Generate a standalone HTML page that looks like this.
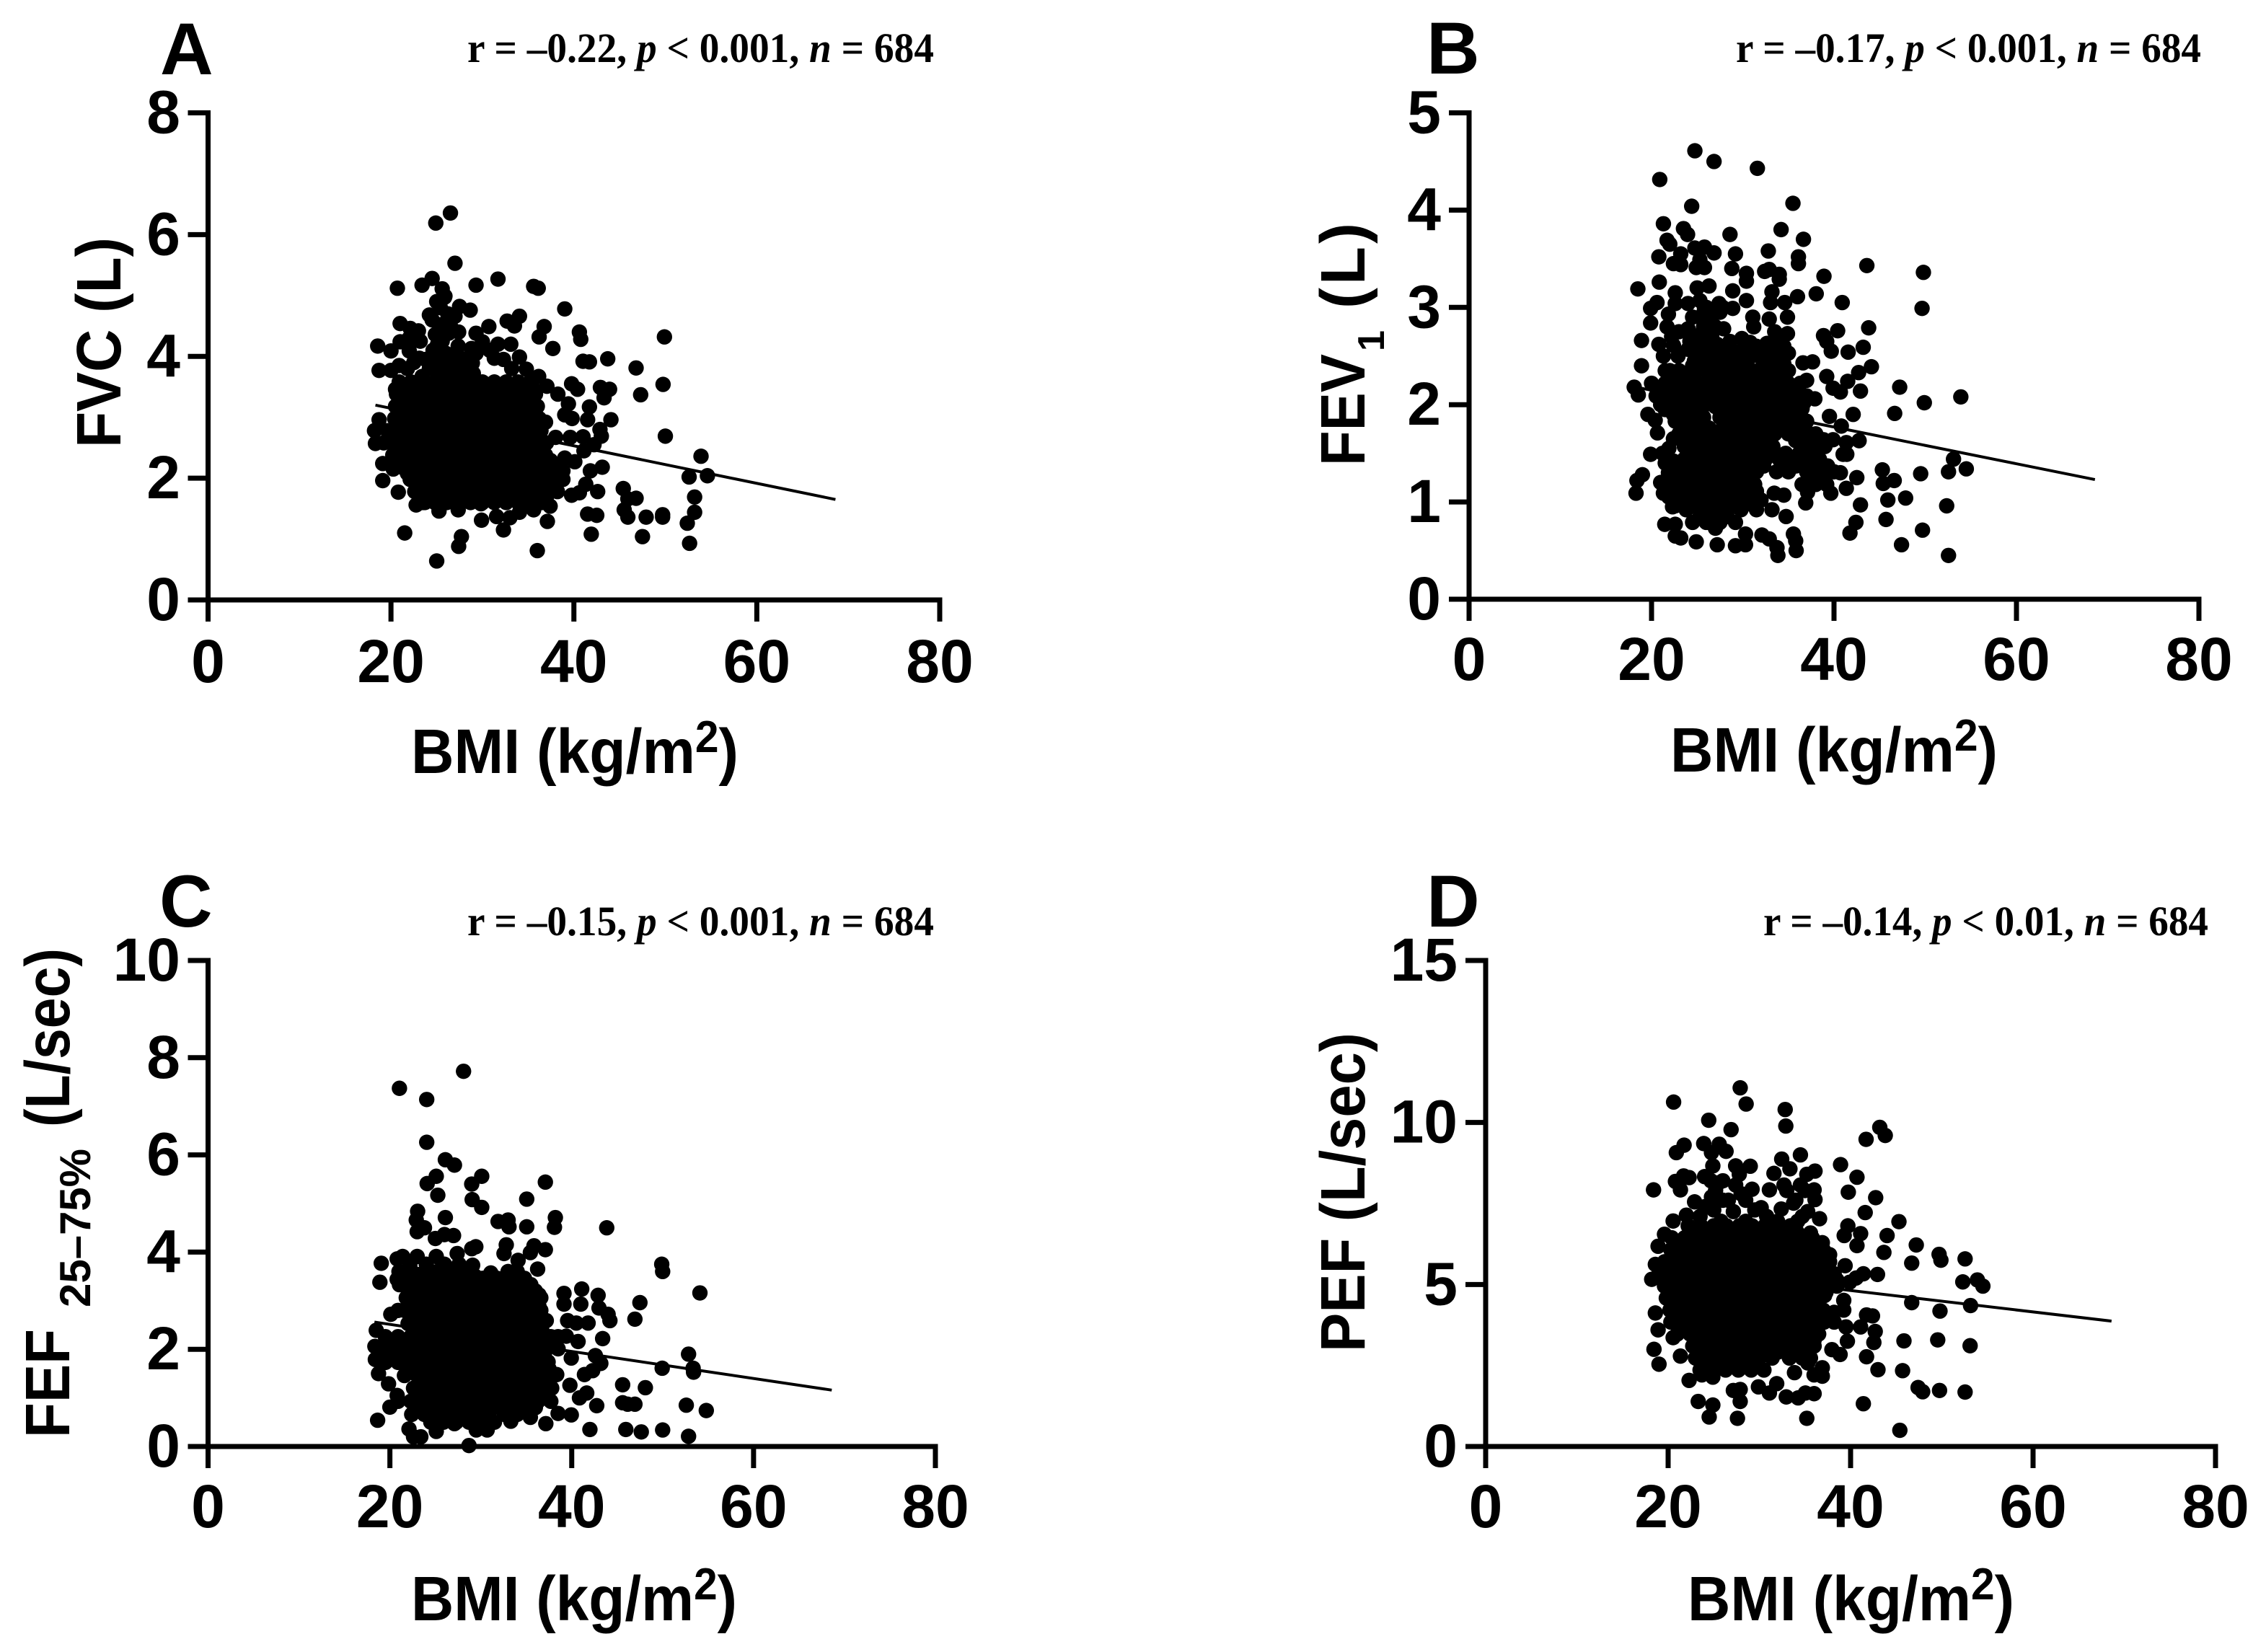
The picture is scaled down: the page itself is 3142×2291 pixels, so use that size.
<!DOCTYPE html>
<html lang="en">
<head>
<meta charset="utf-8">
<title>Lung function versus BMI</title>
<style>
html,body{margin:0;padding:0;background:#fff;width:3142px;height:2291px;overflow:hidden}
svg{display:block}
text{fill:#000}
.sans{font-family:"Liberation Sans",Arial,sans-serif;font-weight:700}
.serif{font-family:"Liberation Serif","Times New Roman",serif;font-weight:700;font-size:58px}
.letter{font-size:102px}
.ytitle{font-size:87px}
.xtitle{font-size:87px}
.tick{font-size:84px}
</style>
</head>
<body>
<svg id="figure" width="3142" height="2291" viewBox="0 0 3142 2291" xmlns="http://www.w3.org/2000/svg">
<rect width="3142" height="2291" fill="#fff"/>

<g id="panel-a"></g>
<g id="panel-b"></g>
<g id="panel-c"></g>
<g id="panel-d"></g>

<text class="sans letter" x="222" y="103">A</text>
<text class="sans letter" x="1978" y="102">B</text>
<text class="sans letter" x="221" y="1285">C</text>
<text class="sans letter" x="1978" y="1285">D</text>

<text class="serif" x="648" y="86" textLength="647" lengthAdjust="spacingAndGlyphs">r = –0.22, <tspan font-style="italic">p</tspan> &lt; 0.001, <tspan font-style="italic">n</tspan> = 684</text>
<text class="serif" x="2407" y="86" textLength="645" lengthAdjust="spacingAndGlyphs">r = –0.17, <tspan font-style="italic">p</tspan> &lt; 0.001, <tspan font-style="italic">n</tspan> = 684</text>
<text class="serif" x="648" y="1297" textLength="647" lengthAdjust="spacingAndGlyphs">r = –0.15, <tspan font-style="italic">p</tspan> &lt; 0.001, <tspan font-style="italic">n</tspan> = 684</text>
<text class="serif" x="2445" y="1297" textLength="617" lengthAdjust="spacingAndGlyphs">r = –0.14, <tspan font-style="italic">p</tspan> &lt; 0.01, <tspan font-style="italic">n</tspan> = 684</text>

<text class="sans xtitle" x="570" y="1072" textLength="454" lengthAdjust="spacingAndGlyphs">BMI (kg/m<tspan font-size="62" dy="-29">2</tspan><tspan dy="29">)</tspan></text>
<text class="sans xtitle" x="2316" y="1070" textLength="454" lengthAdjust="spacingAndGlyphs">BMI (kg/m<tspan font-size="62" dy="-29">2</tspan><tspan dy="29">)</tspan></text>
<text class="sans xtitle" x="570" y="2247" textLength="452" lengthAdjust="spacingAndGlyphs">BMI (kg/m<tspan font-size="62" dy="-29">2</tspan><tspan dy="29">)</tspan></text>
<text class="sans xtitle" x="2340" y="2247" textLength="453" lengthAdjust="spacingAndGlyphs">BMI (kg/m<tspan font-size="62" dy="-29">2</tspan><tspan dy="29">)</tspan></text>

<text class="sans ytitle" transform="translate(167,621) rotate(-90)" x="0" y="0" textLength="292" lengthAdjust="spacingAndGlyphs">FVC (L)</text>

<g>
<text class="sans ytitle" transform="translate(1892,646) rotate(-90)" x="0" y="0" textLength="155" lengthAdjust="spacingAndGlyphs">FEV</text>
<text class="sans" font-size="52" transform="translate(1919,487) rotate(-90)" x="0" y="0">1</text>
<text class="sans ytitle" transform="translate(1892,428) rotate(-90)" x="0" y="0" textLength="119">(L)</text>
</g>

<g>
<text class="sans ytitle" transform="translate(96,1994) rotate(-90)" x="0" y="0" textLength="151" lengthAdjust="spacingAndGlyphs">FEF</text>
<text class="sans" font-size="60" transform="translate(125,1813) rotate(-90)" x="0" y="0" textLength="220">25–75%</text>
<text class="sans ytitle" transform="translate(96,1563) rotate(-90)" x="0" y="0" textLength="248" lengthAdjust="spacingAndGlyphs">(L/sec)</text>
</g>

<text class="sans ytitle" transform="translate(1892,1875) rotate(-90)" x="0" y="0" textLength="443" lengthAdjust="spacingAndGlyphs">PEF (L/sec)</text>
</svg>

<script>
const bmiTicks = [0, 20, 40, 60, 80];
const fvcTicks = [0, 2, 4, 6, 8];
const fev1Ticks = [0, 1, 2, 3, 4, 5];
const fefTicks = [0, 2, 4, 6, 8, 10];
const pefTicks = [0, 5, 10, 15];

const fitBmi = [18.3, 68.6];
const fvcFit = [3.2, 1.65];
const fev1Fit = [2.18, 1.23];
const fefFit = [2.56, 1.16];
const pefFit = [5.53, 3.87];

const fvcPoints = [
[26.5,6.355],[24.9,6.19],[27,5.53],[20.7,5.12],[23.4,5.17],[24.5,5.28],[29.3,5.17],[31.7,5.27],[35.6,5.15],[36.1,5.12],[39,4.78],[25.6,5.11],[25.85,4.97],[49.9,4.32],[36.75,4.49],[36.2,4.32],[37.7,4.13],[40.6,4.4],[40.75,4.28],[41,3.92],[41.7,3.91],[43.7,3.96],[46.8,3.81],[49.75,3.54],[47.3,3.37],[39.75,3.55],[40.4,3.46],[42.9,3.49],[43.9,3.46],[43.3,3.32],[41.7,3.17],[44.05,2.96],[50,2.69],[53.9,2.36],[52.6,2.02],[54.6,2.04],[53.2,1.69],[53.2,1.44],[52.4,1.26],[52.65,0.93],[49.7,1.4],[49.7,1.36],[47.9,1.36],[47.5,1.04],[45.9,1.36],[45.5,1.48],[45.4,1.83],[45.9,1.66],[46.8,1.67],[41.5,1.41],[42.5,1.39],[41.9,1.08],[43.1,2.18],[41.8,2.12],[41.3,1.9],[42.6,1.78],[40.6,1.76],[39.75,1.72],[37.1,1.29],[36,0.81],[33,1.35],[32.3,1.15],[31.55,1.37],[29.9,1.31],[27.7,1.04],[27.4,0.88],[25,0.64],[21.5,1.1],[20.8,1.77],[19.1,1.96],[19.1,2.24],[20.25,2.15],[25.25,1.46],[27.35,1.48],[22.75,1.56],[23.7,1.6],[29.84,1.58],[35.6,1.48],[37.4,1.54],[34.05,1.44],[18.3,2.57],[18.2,2.78],[18.7,2.96],
[18.7,3.77],[20,3.77],[20.9,3.85],[18.55,4.17],[20,4.09],[21,4.24],[21,4.54],[22.1,4.46],[23,4.42],[22,4.09],[23.1,3.97],[23.4,3.67],[21.6,3.53],[20.5,3.46],[24.2,4.68],[25.4,4.8],[27,4.66],[27.5,4.82],[28.66,4.76],[25.9,4.99],[24.85,4.36],[26.3,4.38],[25.4,4.52],[29.3,4.38],[30.7,4.49],[32.7,4.58],[34.05,4.66],[33.5,4.5],[33.1,4.2],[31.7,4.2],[32.3,3.95],[31.3,3.97],[30,4.24],[27.35,4.17],[28.8,4.13],[34.05,3.99],[34.8,3.79],[36.15,3.67],[37.05,3.51],[38.25,3.38],[39.4,3.22],[39,3.04],[39.8,2.98],[41.5,2.96],[42.85,2.8],[43,2.69],[41.1,2.45],[42.2,2.55],[40.1,2.27],[39,2.33],[37.45,2.29],[36.9,2.92],[36,3.18],[38,2.67],[39.6,2.67],[41,2.68],[24.85,3.93],[26.2,3.89],[27.5,3.89],[28.9,3.89],[25.1,4.2],[23.8,3.95],[25.5,3.72],[27,3.72],[28.5,3.72],
[21.8,3.8],[22.5,3.9],[24.2,3.8],[25.9,3.8],[27.2,4.05],[28.2,3.95],[24.6,4.1],[26,4.05],[22,4.3],[23.2,4.25],[24.5,4.6],[26.5,4.5],[25,4.9],[26.2,4.7],[29.3,4.05],[30.8,4.1],[33.2,3.8],[29,3.72],[25.6,4.25],[27.4,4.4],
[20.9,3.58],[22.2,3.58],[23.5,3.58],[24.8,3.58],[26.1,3.58],[27.4,3.58],[28.7,3.58],[30,3.58],[31.3,3.58],[32.6,3.58],[33.9,3.58],[35.2,3.58],
[21.2,3.48],[22.5,3.48],[23.8,3.48],[25.1,3.48],[26.4,3.48],[27.7,3.48],[29,3.48],[30.3,3.48],[31.6,3.48],[32.9,3.48],[34.2,3.48],[35.5,3.48],
[20.6,3.38],[21.9,3.38],[23.2,3.38],[24.5,3.38],[25.8,3.38],[27.1,3.38],[28.4,3.38],[29.7,3.38],[31,3.38],[32.3,3.38],[33.6,3.38],[34.9,3.38],[35.8,3.38],
[21.2,3.28],[22.5,3.28],[23.8,3.28],[25.1,3.28],[26.4,3.28],[27.7,3.28],[29,3.28],[30.3,3.28],[31.6,3.28],[32.9,3.28],[34.2,3.28],[35.5,3.28],
[20.5,3.18],[21.8,3.18],[23.1,3.18],[24.4,3.18],[25.7,3.18],[27,3.18],[28.3,3.18],[29.6,3.18],[30.9,3.18],[32.2,3.18],[33.5,3.18],[34.8,3.18],
[21.1,3.08],[22.4,3.08],[23.7,3.08],[25,3.08],[26.3,3.08],[27.6,3.08],[28.9,3.08],[30.2,3.08],[31.5,3.08],[32.8,3.08],[34.1,3.08],[35.4,3.08],
[20.4,2.98],[21.7,2.98],[23,2.98],[24.3,2.98],[25.6,2.98],[26.9,2.98],[28.2,2.98],[29.5,2.98],[30.8,2.98],[32.1,2.98],[33.4,2.98],[34.7,2.98],[36.2,2.98],
[21,2.88],[22.3,2.88],[23.6,2.88],[24.9,2.88],[26.2,2.88],[27.5,2.88],[28.8,2.88],[30.1,2.88],[31.4,2.88],[32.7,2.88],[34,2.88],[35.3,2.88],[36,2.88],
[19.6,2.78],[20.9,2.78],[22.2,2.78],[23.5,2.78],[24.8,2.78],[26.1,2.78],[27.4,2.78],[28.7,2.78],[30,2.78],[31.3,2.78],[32.6,2.78],[33.9,2.78],[35.2,2.78],[36.4,2.78],
[20.2,2.68],[21.5,2.68],[22.8,2.68],[24.1,2.68],[25.4,2.68],[26.7,2.68],[28,2.68],[29.3,2.68],[30.6,2.68],[31.9,2.68],[33.2,2.68],[34.5,2.68],[35.8,2.68],
[19.2,2.58],[20.5,2.58],[21.8,2.58],[23.1,2.58],[24.4,2.58],[25.7,2.58],[27,2.58],[28.3,2.58],[29.6,2.58],[30.9,2.58],[32.2,2.58],[33.5,2.58],[34.8,2.58],[36.1,2.58],[37,2.58],
[20.5,2.48],[21.8,2.48],[23.1,2.48],[24.4,2.48],[25.7,2.48],[27,2.48],[28.3,2.48],[29.6,2.48],[30.9,2.48],[32.2,2.48],[33.5,2.48],[34.8,2.48],[36.2,2.48],
[20.2,2.38],[21.5,2.38],[22.8,2.38],[24.1,2.38],[25.4,2.38],[26.7,2.38],[28,2.38],[29.3,2.38],[30.6,2.38],[31.9,2.38],[33.2,2.38],[34.5,2.38],[35.8,2.38],[36.9,2.38],
[20.8,2.28],[22.1,2.28],[23.4,2.28],[24.7,2.28],[26,2.28],[27.3,2.28],[28.6,2.28],[29.9,2.28],[31.2,2.28],[32.5,2.28],[33.8,2.28],[35.1,2.28],[36.4,2.28],[37.2,2.2],
[21.2,2.18],[22.5,2.18],[23.8,2.18],[25.1,2.18],[26.4,2.18],[27.7,2.18],[29,2.18],[30.3,2.18],[31.6,2.18],[32.9,2.18],[34.2,2.18],[35.5,2.18],[36.8,2.18],[38,2.18],[38.8,2.12],
[21.8,2.08],[23.1,2.08],[24.4,2.08],[25.7,2.08],[27,2.08],[28.3,2.08],[29.6,2.08],[30.9,2.08],[32.2,2.08],[33.5,2.08],[34.8,2.08],[36.1,2.08],[37.5,2.08],
[22.1,1.98],[23.4,1.98],[24.7,1.98],[26,1.98],[27.3,1.98],[28.6,1.98],[29.9,1.98],[31.2,1.98],[32.5,1.98],[33.8,1.98],[35.1,1.98],[36.4,1.98],[37.7,1.98],[38.8,1.98],
[23,1.88],[24.3,1.88],[25.6,1.88],[26.9,1.88],[28.2,1.88],[29.5,1.88],[30.8,1.88],[32.1,1.88],[33.4,1.88],[34.7,1.88],[36,1.88],[37.3,1.88],[37.8,1.88],
[22.6,1.78],[23.9,1.78],[25.2,1.78],[26.5,1.78],[27.8,1.78],[29.1,1.78],[30.4,1.78],[31.7,1.78],[33,1.78],[34.3,1.78],[35.6,1.78],[36.9,1.78],[38.2,1.78],
[23.3,1.69],[24.6,1.69],[25.9,1.69],[27.2,1.69],[28.5,1.69],[29.8,1.69],[31.1,1.69],[32.4,1.69],[33.7,1.69],[35,1.69],[36.3,1.69],[37,1.69],
[23.5,1.6],[24.8,1.6],[26.1,1.6],[27.4,1.6],[28.7,1.6],[30,1.6],[31.3,1.6],[32.6,1.6],[33.9,1.6],[35.2,1.6],[36.5,1.6]
];

const fev1Points = [
[24.75,4.61],[26.85,4.5],[31.6,4.43],[20.9,4.315],[35.5,4.07],[24.4,4.04],[21.3,3.86],[23.5,3.81],[23.95,3.75],[28.6,3.75],[34.2,3.8],[36.65,3.7],[21.7,3.69],[22,3.65],[20.8,3.52],[23.2,3.55],[22.4,3.45],[23.2,3.44],[24.75,3.61],[25.8,3.62],[26.85,3.56],[25.3,3.49],[25.8,3.41],[24.9,3.41],[29.2,3.55],[32.8,3.58],[36.1,3.52],[36.1,3.45],[28.8,3.4],[30.4,3.35],[30.4,3.27],[32.4,3.37],[32.9,3.39],[34,3.34],[34,3.29],[38.9,3.32],[43.6,3.43],[49.8,3.36],[49.65,2.99],[18.5,3.19],[20.85,3.26],[20.6,3.05],[19.9,2.99],[19.9,2.84],[18.9,2.66],[18.9,2.4],[18.1,2.18],[18.55,2.1],
[22.6,3.15],[25,3.2],[26.3,3.22],[28.9,3.17],[30.4,3.07],[33.2,3.16],[33.05,3.05],[34.6,3.05],[36,3.11],[38.05,3.14],[40.9,3.05],[27.4,3.04],[28.9,2.99],[22.6,3.04],[24,3.04],[25.3,3.07],[21.85,2.93],[21.7,2.8],[31.1,2.9],[32.9,2.88],[34.9,2.9],[34.9,2.73],[31.2,2.8],[24,2.78],[25.3,2.9],[26.6,2.9],[27.9,2.78],[26.6,2.7],[25,2.7],[38.85,2.71],[40.4,2.76],[43.8,2.79],[43.2,2.59],[41.55,2.54],[39.7,2.55],[39.2,2.65],[35,2.53],[29.9,2.68],[30.8,2.64],[32.65,2.63],[34,2.64],[20.8,2.62],[22.4,2.61],[22.9,2.5],[24,2.57],[26.6,2.55],[27.9,2.55],[29.2,2.5],[31,2.5],[32.5,2.5],[34,2.5],[36.6,2.43],[37.65,2.44],[44.1,2.39],[42.7,2.33],[41.5,2.24],[39.2,2.29],[39.9,2.17],[40.7,2.13],[42.9,2.14],[47.2,2.18],[46.65,1.91],[49.9,2.02],[53.9,2.08],[37,2.25],[37.9,2.06],[39.5,1.88],[42.1,1.9],[40.8,1.78],[42.75,1.63],[41.35,1.61],[41.4,1.49],[41,1.49],[39.9,1.64],[38.85,1.64],[45.3,1.33],[49.5,1.29],[53.1,1.44],[52.55,1.31],[54.5,1.34],[46.6,1.22],[45.4,1.19],[42.5,1.25],[41.35,1.14],[40.7,1.3],[39.65,1.09],[42.9,0.97],[45.9,1.02],[47.85,1.04],[52.35,0.96],[45.7,0.82],[42.4,0.79],[41.75,0.68],[49.7,0.71],[47.4,0.56],[52.55,0.45],[36.9,0.99],[37.1,1.1],[34.5,1.07],[33.45,1.09],[33.2,0.92],[34.75,0.85],[35.55,0.67],[35.8,0.6],[35.85,0.5],[33.85,0.45],[33.75,0.53],[32.9,0.62],[32.1,0.66],[30.3,0.67],[30.3,0.56],[29.2,0.55],[29.2,0.79],[27.2,0.56],[27,0.73],[24.9,0.59],[23.2,0.63],[22.6,0.65],[21.45,0.77],[22.6,0.77],[18.3,1.09],[18.4,1.22],[19,1.28],[21.3,1.09],[22.6,0.96],[19.9,1.49],[21.2,1.5],[21.85,1.3],[19.6,1.9],[20.4,1.84],[20.65,1.71],
[21.5,1.95],[22,2.02],[21.8,1.2],[21.5,1.4],[22.4,1.42],[21.9,1.55],[22.4,1.65],[21.4,1.1],[21,1.2],[22.4,1.9],[21,2],[22.3,0.95],[24.2,2.65],[25,2.55],[25.6,2.75],[26.3,2.85],[27,2.6],[27.5,2.45],[25.6,2.45],[26.5,2.35],[24.5,2.4],[28.3,2.55],[27.8,3],[25.8,2.98],[24.7,2.3],[28.2,2.3],[29.5,2.45],[31,2.35],[33,2.4],[34.5,2.6],[25.7,1.87],[27.5,1.87],
[24.7,2.45],[26.2,2.45],[28.4,2.42],[30,2.42],[25.8,2.6],[27.2,2.62],[28.6,2.65],[25.7,2.8],[27,2.8],[24.5,2.9],[27.5,2.95],[26,3],[29.8,2.55],[31.5,2.6],[33.2,2.6],[33.5,2.75],[32.2,2.4],[34.5,2.42],[23,2.75],[22.2,2.7],[21.3,2.5],[22,2.35],
[21.5,2.35],[23,2.35],[26,2.35],[27.5,2.35],[29,2.35],[30.5,2.35],[32,2.35],[33.5,2.35],[35,2.35],
[22.2,2.28],[23.8,2.28],[26.7,2.28],[28.2,2.28],[29.7,2.28],[31.2,2.28],[32.7,2.28],[34.2,2.28],
[20,2.22],[21.5,2.22],[23,2.22],[24.5,2.22],[26,2.22],[27.5,2.22],[29,2.22],[30.5,2.22],[32,2.22],[33.5,2.22],[35,2.22],[36.3,2.22],
[21.2,2.15],[22.7,2.15],[24.2,2.15],[25.7,2.15],[27.2,2.15],[28.7,2.15],[30.2,2.15],[31.7,2.15],[33.2,2.15],[34.7,2.15],[36,2.15],
[20.5,2.09],[22,2.09],[23.5,2.09],[25,2.09],[26.5,2.09],[28,2.09],[29.5,2.09],[31,2.09],[32.5,2.09],[34,2.09],[35.5,2.09],[37,2.09],
[23.2,2.02],[24.7,2.02],[26.2,2.02],[27.7,2.02],[29.2,2.02],[30.7,2.02],[32.2,2.02],[33.7,2.02],[35.2,2.02],[36.7,2.02],
[22.5,1.96],[24,1.96],[25.5,1.96],[27,1.98],[28.5,1.96],[30,1.96],[31.5,1.96],[33,1.96],[34.5,1.96],[36.5,1.96],
[23.3,1.89],[24.8,1.89],[29.2,1.89],[30.7,1.89],[32.2,1.89],[33.7,1.89],[35.2,1.89],
[22.6,1.83],[24.1,1.83],[25.6,1.83],[28.5,1.83],[30,1.83],[31.5,1.83],[33,1.83],[34.5,1.83],[36,1.83],[37,1.83],
[23.3,1.76],[24.8,1.76],[26.3,1.76],[27.8,1.76],[29.3,1.76],[30.8,1.76],[32.3,1.76],[33.8,1.76],[35.3,1.76],[36.8,1.76],
[23,1.7],[24.5,1.7],[26,1.7],[27.5,1.7],[29,1.7],[30.5,1.7],[32,1.7],[33.5,1.7],[35,1.7],[36.6,1.7],[38,1.7],
[24.3,1.63],[25.8,1.63],[27.3,1.63],[28.8,1.63],[30.3,1.63],[31.8,1.63],[33,1.63],[35.8,1.63],[37.3,1.63],[38.5,1.63],
[23.6,1.57],[25.1,1.57],[26.6,1.57],[28.1,1.57],[29.6,1.57],[31,1.57],[32.5,1.57],[33.3,1.57],[36.5,1.57],[38,1.57],[39,1.57],
[24.3,1.5],[25.8,1.5],[27.3,1.5],[28.8,1.5],[30.3,1.5],[31.8,1.5],[33.2,1.5],[34.7,1.5],[36.2,1.5],[37.7,1.5],
[23.6,1.44],[25.1,1.44],[26.6,1.44],[28.1,1.44],[29.6,1.44],[31,1.44],[32.5,1.44],[34,1.44],[35.5,1.44],[37,1.44],[38.4,1.44],
[23.3,1.37],[24.8,1.37],[26.3,1.37],[27.8,1.37],[29.3,1.37],[30.8,1.37],[32.3,1.37],[34.3,1.37],[35.8,1.37],[37.7,1.37],[39.3,1.37],
[22.5,1.31],[24,1.31],[25.5,1.31],[27,1.31],[28.5,1.31],[30,1.31],[31.5,1.31],[33.7,1.31],[35,1.31],[37,1.31],[38.5,1.31],[40,1.31],
[23.3,1.24],[24.8,1.24],[26.3,1.24],[27.8,1.24],[29.3,1.24],[30.7,1.24],[37.3,1.24],[38.8,1.24],
[22.6,1.18],[24.1,1.18],[25.6,1.18],[27.1,1.18],[28.6,1.18],[30,1.18],[31.3,1.18],[36.5,1.18],[38,1.18],[39.2,1.18],
[22.6,1.11],[24.1,1.11],[25.6,1.11],[27.1,1.11],[28.6,1.11],[30.2,1.11],[31.5,1.11],
[21.9,1.05],[23.4,1.05],[24.9,1.05],[26.4,1.05],[27.9,1.05],[29.4,1.05],[31,1.05],[32,1.02],
[24.5,0.98],[26,0.98],[27.5,0.98],[29,0.98],[30.5,0.98],
[23.8,0.92],[25.3,0.92],[26.8,0.92],[28.3,0.92],[29.8,0.92],[31.5,0.92],
[25.3,0.85],[26.8,0.85],[28.3,0.85],
[24.5,0.79],[26,0.79],[27.5,0.79]
];

const fefPoints = [
[28.1,7.72],[21.05,7.37],[24.05,7.14],[24.05,6.26],[26.1,5.9],[27.1,5.79],[25.1,5.56],[30.1,5.56],[24.1,5.41],[29,5.4],[25.27,5.17],[37.1,5.44],[35.05,5.09],[29.05,5.08],[30.1,4.92],[43.85,4.5],[38.2,4.71],[38.1,4.51],[35.05,4.52],[33,4.66],[31.9,4.63],[33.1,4.52],[26.1,4.71],[23.05,4.84],[22.9,4.66],[23,4.42],[23.8,4.5],[25,4.28],[26,4.36],[27,4.34],[29.45,4.11],[29,4.07],[32.8,4.15],[32.55,3.97],[35.85,4.13],[35.45,3.99],[37.1,4.05],[36.25,3.65],[34.1,3.83],[49.9,3.75],[50,3.6],[54.1,3.16],[47.5,2.96],[46.95,2.62],[41.1,3.24],[39.15,3.15],[39.15,2.93],[42.9,3.11],[41,2.93],[43,2.85],[44,2.72],[44.2,2.59],[43.4,2.22],[42.6,1.87],[43.2,1.71],[42.3,1.56],[41.4,1.48],[39.95,1.82],[39.55,2.59],[40.5,2.54],[41.8,2.54],[39.4,2.27],[40.7,2.16],[38.5,2.01],[37.2,2.59],[36.4,3.12],[36.4,2.88],[52.85,1.9],[53.35,1.61],[53.4,1.53],[49.95,1.61],[45.6,1.27],[48.1,1.21],[45.6,0.9],[46.15,0.87],[46.95,0.87],[52.6,0.85],[54.8,0.74],[45.95,0.35],[47.65,0.3],[50,0.34],[52.85,0.21],[42,0.35],[39.95,0.65],[42.75,0.84],[37.15,0.47],[40.85,1],[39.8,1.26],[41.65,1.1],[38.5,0.68],[38.35,1.48],[37.4,1.74],[28.7,0.02],[18.65,0.54],[19.05,3.77],[18.9,3.38],[20,0.81],[20.9,2.8],[20.1,2.72],[18.5,2.39],[18.35,2.06],[18.4,1.79],[18.75,1.5],[19.85,1.29],[20.8,1.05],[22.1,0.36],[23.4,0.2],[22.6,0.2],[25.1,0.31],[27.1,0.47],[29.5,0.34],[30.7,0.34],[33.3,0.52],[35.45,0.6],[20.8,3.86],[21.4,3.91],[23,3.91],[25.1,3.91],[27.4,3.97],[29.1,3.73],[31.1,3.57],[20.8,3.44],[23.3,3.54],[21.05,3.33],[22.2,3.75],[24,3.75],[26,3.75],[27.6,3.75],
[21,3.6],[22.4,3.6],[25.2,3.6],[26.6,3.6],[28,3.6],[29.4,3.5],[33,3.6],[34,3.6],
[22,3.46],[23.1,3.46],[24.5,3.46],[25.9,3.46],[27.3,3.46],[28.7,3.46],[30.2,3.46],[31.8,3.46],[33.4,3.46],[34.8,3.46],
[21.5,3.33],[22.9,3.2],[24.3,3.33],[25.7,3.33],[27.1,3.33],[28.5,3.33],[29.9,3.33],[31.3,3.33],[32.7,3.33],[34.1,3.33],[35.5,3.33],
[22.2,3.2],[23.6,3.2],[25,3.2],[26.4,3.2],[27.8,3.2],[29.2,3.2],[30.6,3.2],[32,3.2],[33.4,3.2],[34.8,3.2],[36,3.2],
[21.8,3.06],[23.2,3.06],[24.6,3.06],[26,3.06],[27.4,3.06],[28.8,3.06],[30.2,3.06],[31.6,3.06],[33,3.06],[34.4,3.06],[35.8,3.06],[36.6,3.06],
[22.3,2.93],[23.7,2.93],[25.1,2.93],[26.5,2.93],[27.9,2.93],[29.3,2.93],[30.7,2.93],[32.1,2.93],[33.5,2.93],[34.9,2.93],[36.2,2.93],
[21.6,2.8],[23,2.8],[24.4,2.8],[25.8,2.8],[27.2,2.8],[28.6,2.8],[30,2.8],[31.4,2.8],[32.8,2.8],[34.2,2.8],[35.6,2.8],[36.6,2.8],
[22.3,2.66],[23.7,2.66],[25.1,2.66],[26.5,2.66],[27.9,2.66],[29.3,2.66],[30.7,2.66],[32.1,2.66],[33.5,2.66],[34.9,2.66],[36.3,2.66],
[22,2.53],[23.4,2.53],[24.8,2.53],[26.2,2.53],[27.6,2.53],[29,2.53],[30.4,2.53],[31.8,2.53],[33.2,2.53],[34.6,2.53],[36,2.53],
[22.7,2.4],[24.1,2.4],[25.5,2.4],[26.9,2.4],[28.3,2.4],[29.7,2.4],[31.1,2.4],[32.5,2.4],[33.9,2.4],[35.3,2.4],[36.7,2.4],
[19.5,2.26],[20.9,2.26],[22.3,2.26],[23.7,2.26],[25.1,2.26],[26.5,2.26],[27.9,2.26],[29.3,2.26],[30.7,2.26],[32.1,2.26],[33.5,2.26],[34.9,2.26],[36.3,2.26],[37.7,2.26],[38.5,2.26],
[20.2,2.13],[21.6,2.13],[23,2.13],[24.4,2.13],[25.8,2.13],[27.2,2.13],[28.6,2.13],[30,2.13],[31.4,2.13],[32.8,2.13],[34.2,2.13],[35.6,2.13],[37,2.13],[38,2.13],
[19,2],[20.4,2],[21.8,2],[23.2,2],[24.6,2],[26,2],[27.4,2],[28.8,2],[30.2,2],[31.6,2],[33,2],[34.4,2],[35.8,2],[37.2,2],
[20.2,1.86],[21.6,1.86],[23,1.86],[24.4,1.86],[25.8,1.86],[27.2,1.86],[28.6,1.86],[30,1.86],[31.4,1.86],[32.8,1.86],[34.2,1.86],[35.6,1.86],[37,1.86],
[19.5,1.73],[20.9,1.73],[22.3,1.73],[23.7,1.73],[25.1,1.73],[26.5,1.73],[27.9,1.73],[29.3,1.73],[30.7,1.73],[32.1,1.73],[33.5,1.73],[34.9,1.73],[36.3,1.73],
[22.3,1.6],[23.7,1.6],[25.1,1.6],[26.5,1.6],[27.9,1.6],[29.3,1.6],[30.7,1.6],[32.1,1.6],[33.5,1.6],[34.9,1.6],[36.3,1.6],[37.5,1.6],
[21.6,1.46],[23,1.46],[24.4,1.46],[25.8,1.46],[27.2,1.46],[28.6,1.46],[30,1.46],[31.4,1.46],[32.8,1.46],[34.2,1.46],[35.6,1.46],[37,1.46],[38,1.46],
[23.3,1.33],[24.7,1.33],[26.1,1.33],[27.5,1.33],[28.9,1.33],[30.3,1.33],[31.7,1.33],[33.1,1.33],[34.5,1.33],[35.9,1.33],[37.2,1.33],
[22.6,1.2],[24,1.2],[25.4,1.2],[26.8,1.2],[28.2,1.2],[29.6,1.2],[31,1.2],[32.4,1.2],[33.8,1.2],[35.2,1.2],[36.6,1.2],[37.8,1.2],
[23.3,1.06],[24.7,1.06],[26.1,1.06],[27.5,1.06],[28.9,1.06],[30.3,1.06],[31.7,1.06],[33.1,1.06],[34.5,1.06],[35.9,1.06],[37.3,1.06],
[20.9,0.93],[22.3,0.93],[23.7,0.93],[25.1,0.93],[26.5,0.93],[27.9,0.93],[29.3,0.93],[30.7,0.93],[32.1,0.93],[33.5,0.93],[34.9,0.93],[36.3,0.93],[37.7,0.93],
[23,0.8],[24.4,0.8],[25.8,0.8],[27.2,0.8],[28.6,0.8],[30,0.8],[31.4,0.8],[33.3,0.8],[34.7,0.8],[36,0.8],
[22.4,0.66],[23.8,0.66],[25.2,0.66],[26.6,0.66],[28,0.66],[29.4,0.66],[30.8,0.66],[32.6,0.66],[34,0.66],[35.4,0.66],
[24.5,0.5],[25.9,0.5],[27.3,0.5],[28.7,0.5],[30,0.5],[31.5,0.5]
];

const pefPoints = [
[27.9,11.07],[20.6,10.63],[28.55,10.57],[32.83,10.4],[32.9,9.89],[24.45,10.07],[26.9,9.78],[43.2,9.85],[43.8,9.6],[41.7,9.48],[21.75,9.3],[20.9,9.07],[23.9,9.35],[25.6,9.33],[26.35,9.11],[24.75,9.07],[34.5,9],[32.45,8.87],[33.35,8.57],[38.9,8.7],[40.7,8.31],[36.1,8.5],[29,8.65],[27.4,8.66],[24.9,8.66],[31.6,8.43],[21.7,8.35],[20.8,8.18],[18.4,7.92],[21.35,7.92],[24,8.33],[25.55,8.14],[27.4,8.07],[29.2,7.94],[31.1,7.92],[32.7,8.07],[34.5,8.07],[36,7.92],[39.75,7.85],[42.75,7.68],[41.6,7.22],[36.1,7.62],[35.3,7.25],[33.75,7.51],[32.4,7.33],[30.2,7.37],[27.15,7.25],[24.75,7.7],[22.9,7.55],[22,7.14],[36.6,7.03],[39.7,6.81],[45.3,6.94],[41.1,6.57],[39.3,6.51],[44,6.51],[40.7,6.2],[43.65,5.99],[47.2,6.22],[46.7,5.66],[49.7,5.93],[49.9,5.75],[52.55,5.79],[52.3,5.08],[53.9,5.14],[54.5,4.95],[20.55,6.96],[19.6,6.55],[18.9,6.18],[18.6,5.62],[18.2,5.16],[46.7,4.44],[49.8,4.18],[53.15,4.35],[45.85,3.26],[49.55,3.29],[53.1,3.11],[42.55,3.21],[41.75,2.77],[43,2.37],[45.7,2.34],[47.4,1.82],[47.9,1.69],[49.75,1.73],[52.55,1.68],[45.4,0.5],[41.4,1.32],[35.2,0.87],[27.6,0.87],[24.5,0.91],[24.9,1.28],[23.3,1.39],[27.9,1.39],[27.15,1.73],[27.9,1.76],[29.9,1.84],[31.1,1.65],[31.9,1.94],[32.95,1.53],[34.25,1.5],[35.05,1.65],[36,1.63],[22.3,2.04],[24.9,2.14],[23.7,2.21],[19,2.54],[18.45,3],[18.9,3.6],[18.6,4.12],[21.35,2.79],[20.55,3.36],[36.9,2.43],[36.9,2.17],[36,2.21],[33.85,2.28],[35.3,2.58],[38.85,2.84],[37.95,2.99],[39.65,3.25],[36,3.1],[41.75,4.06],[42.4,4.03],[42.7,3.55],[41.1,3.69],[39.25,4.51],[39.25,4.21],[37.15,4.66],[38.2,3.84],[38.2,4.14],[39.5,3.69],[39.9,5.07],[41.4,5.33],[42.95,5.31],[39.4,5.58],[37.7,5.92],[36.9,6.29],[35.6,6.59],[40.6,5.2],[25,7.3],[26,7.6],[28.5,7.6],[23.5,7.1],[34.2,6.95],[32,6.95],
[26,8.2],[27.8,8.4],[25.2,7.9],[26.6,7.6],[28,7.8],[29.5,7.3],[24,7.4],[25.8,6.95],[28.5,6.95],[33,7.9],[34,7.6],[35,7.9],[35.2,8.4],[22.3,8.3],[24.7,8.2],[30.8,7.1],[34.7,7.1],
[22.2,6.81],[23.6,6.81],[25,6.81],[26.4,6.81],[27.8,6.81],[29.2,6.81],[30.6,6.81],[32,6.81],[33.4,6.81],
[22.9,6.63],[24.3,6.63],[25.7,6.63],[27.1,6.63],[28.5,6.63],[29.9,6.63],[31.3,6.63],[32.7,6.63],[34.1,6.63],
[20.4,6.44],[21.8,6.44],[23.2,6.44],[24.6,6.44],[26,6.44],[27.4,6.44],[28.8,6.44],[30.2,6.44],[31.6,6.44],[33,6.44],[34.4,6.44],[35.8,6.44],
[21.1,6.26],[22.5,6.26],[23.9,6.26],[25.3,6.26],[26.7,6.26],[28.1,6.26],[29.5,6.26],[30.9,6.26],[32.3,6.26],[33.7,6.26],[35.1,6.26],[36.4,6.26],
[20.3,6.07],[21.7,6.07],[23.1,6.07],[24.5,6.07],[25.9,6.07],[27.3,6.07],[28.7,6.07],[30.1,6.07],[31.5,6.07],[32.9,6.07],[34.3,6.07],[35.7,6.07],[37,6.07],
[20.9,5.88],[22.3,5.88],[23.7,5.88],[25.1,5.88],[26.5,5.88],[27.9,5.88],[29.3,5.88],[30.7,5.88],[32.1,5.88],[33.5,5.88],[34.9,5.88],[36.3,5.88],
[19.6,5.7],[21,5.7],[22.4,5.7],[23.8,5.7],[25.2,5.7],[26.6,5.7],[28,5.7],[29.4,5.7],[30.8,5.7],[32.2,5.7],[33.6,5.7],[35,5.7],[36.4,5.7],[37.7,5.7],
[20.3,5.52],[21.7,5.52],[23.1,5.52],[24.5,5.52],[25.9,5.52],[27.3,5.52],[28.7,5.52],[30.1,5.52],[31.5,5.52],[32.9,5.52],[34.3,5.52],[35.7,5.52],[37,5.52],
[19,5.33],[20.4,5.33],[21.8,5.33],[23.2,5.33],[24.6,5.33],[26,5.33],[27.4,5.33],[28.8,5.33],[30.2,5.33],[31.6,5.33],[33,5.33],[34.4,5.33],[35.8,5.33],[37.2,5.33],[38.2,5.33],
[20.3,5.14],[21.7,5.14],[23.1,5.14],[24.5,5.14],[25.9,5.14],[27.3,5.14],[28.7,5.14],[30.1,5.14],[31.5,5.14],[32.9,5.14],[34.3,5.14],[35.7,5.14],[37.1,5.14],[38.5,5.14],
[19.6,4.95],[21,4.95],[22.4,4.95],[23.8,4.95],[25.2,4.95],[26.6,4.95],[28,4.95],[29.4,4.95],[30.8,4.95],[32.2,4.95],[33.6,4.95],[35,4.95],[36.4,4.95],[37.8,4.95],[38.5,4.95],
[20.5,4.76],[21.9,4.76],[23.3,4.76],[24.7,4.76],[26.1,4.76],[27.5,4.76],[28.9,4.76],[30.3,4.76],[31.7,4.76],[33.1,4.76],[34.5,4.76],[35.9,4.76],[37.3,4.76],
[19.8,4.58],[21.2,4.58],[22.6,4.58],[24,4.58],[25.4,4.58],[26.8,4.58],[28.2,4.58],[29.6,4.58],[31,4.58],[32.4,4.58],[33.8,4.58],[35.2,4.58],[36.6,4.58],
[20.9,4.4],[22.3,4.4],[23.7,4.4],[25.1,4.4],[26.5,4.4],[27.9,4.4],[29.3,4.4],[30.7,4.4],[32.1,4.4],[33.5,4.4],[34.9,4.4],[36.3,4.4],
[20.2,4.21],[21.6,4.21],[23,4.21],[24.4,4.21],[25.8,4.21],[27.2,4.21],[28.6,4.21],[30,4.21],[31.4,4.21],[32.8,4.21],[34.2,4.21],[35.6,4.21],[37,4.21],
[21,4.02],[22.4,4.02],[23.8,4.02],[25.2,4.02],[26.6,4.02],[28,4.02],[29.4,4.02],[30.8,4.02],[32.2,4.02],[33.6,4.02],[35,4.02],[36.4,4.02],
[20.3,3.84],[21.7,3.84],[23.1,3.84],[24.5,3.84],[25.9,3.84],[27.3,3.84],[28.7,3.84],[30.1,3.84],[31.5,3.84],[32.9,3.84],[34.3,3.84],[35.7,3.84],[37.1,3.84],
[21.7,3.65],[23.1,3.65],[24.5,3.65],[25.9,3.65],[27.3,3.65],[28.7,3.65],[30.1,3.65],[31.5,3.65],[32.9,3.65],[34.3,3.65],[35.8,3.65],
[21,3.47],[22.4,3.47],[23.8,3.47],[25.2,3.47],[26.6,3.47],[28,3.47],[29.4,3.47],[30.8,3.47],[32.2,3.47],[33.6,3.47],[35.2,3.47],[36.5,3.47],
[23.4,3.28],[24.8,3.28],[26.2,3.28],[27.6,3.28],[29,3.28],[30.4,3.28],[31.8,3.28],[33.2,3.28],[34.6,3.28],[36,3.28],
[22.7,3.1],[24.1,3.1],[25.5,3.1],[26.9,3.1],[28.3,3.1],[29.7,3.1],[31.1,3.1],[32.5,3.1],[33.9,3.1],[35.3,3.1],
[23.7,2.92],[25.1,2.92],[26.5,2.92],[27.9,2.92],[29.3,2.92],[30.7,2.92],[32.1,2.92],[34,2.92],
[23,2.73],[24.4,2.73],[25.8,2.73],[27.2,2.73],[28.6,2.73],[30,2.73],[31.4,2.73],[33.3,2.73],[34.7,2.73],[35.6,2.73],
[24.2,2.55],[25.6,2.55],[27,2.55],[28.4,2.55],[29.8,2.55],
[23.5,2.36],[24.9,2.36],[26.3,2.36],[27.7,2.36],[29.1,2.36],[30.5,2.36]
];

const SVG_NS = 'http://www.w3.org/2000/svg';
const BMI_MAX = 80;
const MARKER_RADIUS = 10.7;
const AXIS_WIDTH = 7;

function drawPanel(groupId, box, yMax, yTicks, points, fitValues) {
  const group = document.getElementById(groupId);
  const xScale = function (bmi) { return box.left + (bmi / BMI_MAX) * (box.right - box.left); };
  const yScale = function (value) { return box.bottom - (value / yMax) * (box.bottom - box.top); };

  points.forEach(function (point) {
    const dot = document.createElementNS(SVG_NS, 'circle');
    
    
    dot.setAttribute('cx', xScale(point[0]));
    dot.setAttribute('cy', yScale(point[1]));
    dot.setAttribute('r', MARKER_RADIUS);
    dot.setAttribute('fill', '#000');
    group.appendChild(dot);
  });

  const fit = document.createElementNS(SVG_NS, 'line');
  
  
  fit.setAttribute('x1', xScale(fitBmi[0]));
  fit.setAttribute('y1', yScale(fitValues[0]));
  fit.setAttribute('x2', xScale(fitBmi[1]));
  fit.setAttribute('y2', yScale(fitValues[1]));
  fit.setAttribute('stroke', '#000');
  fit.setAttribute('stroke-width', 4);
  group.appendChild(fit);

  const yAxis = document.createElementNS(SVG_NS, 'line');
  
  
  yAxis.setAttribute('x1', box.left);
  yAxis.setAttribute('y1', box.top - AXIS_WIDTH / 2);
  yAxis.setAttribute('x2', box.left);
  yAxis.setAttribute('y2', box.bottom);
  yAxis.setAttribute('stroke', '#000');
  yAxis.setAttribute('stroke-width', AXIS_WIDTH);
  group.appendChild(yAxis);

  const xAxis = document.createElementNS(SVG_NS, 'line');
  
  
  xAxis.setAttribute('x1', box.left);
  xAxis.setAttribute('y1', box.bottom);
  xAxis.setAttribute('x2', box.right + AXIS_WIDTH / 2);
  xAxis.setAttribute('y2', box.bottom);
  xAxis.setAttribute('stroke', '#000');
  xAxis.setAttribute('stroke-width', AXIS_WIDTH);
  group.appendChild(xAxis);

  bmiTicks.forEach(function (value) {
    const tick = document.createElementNS(SVG_NS, 'line');
    
    
    tick.setAttribute('x1', xScale(value));
    tick.setAttribute('y1', box.bottom);
    tick.setAttribute('x2', xScale(value));
    tick.setAttribute('y2', box.bottom + 30);
    tick.setAttribute('stroke', '#000');
    tick.setAttribute('stroke-width', AXIS_WIDTH);
    group.appendChild(tick);

    const label = document.createElementNS(SVG_NS, 'text');
    
    
    label.setAttribute('class', 'sans tick');
    label.setAttribute('x', xScale(value));
    label.setAttribute('y', box.xLabelBaseline);
    label.setAttribute('text-anchor', 'middle');
    label.textContent = value;
    group.appendChild(label);
  });

  yTicks.forEach(function (value) {
    const tick = document.createElementNS(SVG_NS, 'line');
    
    
    tick.setAttribute('x1', box.left - 28);
    tick.setAttribute('y1', yScale(value));
    tick.setAttribute('x2', box.left);
    tick.setAttribute('y2', yScale(value));
    tick.setAttribute('stroke', '#000');
    tick.setAttribute('stroke-width', AXIS_WIDTH);
    group.appendChild(tick);

    const label = document.createElementNS(SVG_NS, 'text');
    
    
    label.setAttribute('class', 'sans tick');
    label.setAttribute('x', box.yLabelRight);
    label.setAttribute('y', yScale(value) + 28);
    label.setAttribute('text-anchor', 'end');
    label.textContent = value;
    group.appendChild(label);
  });
}

drawPanel('panel-a', {left: 288.5, right: 1303, top: 156.5, bottom: 832, xLabelBaseline: 946, yLabelRight: 250}, 8, fvcTicks, fvcPoints, fvcFit);
drawPanel('panel-b', {left: 2037, right: 3049, top: 156.5, bottom: 831, xLabelBaseline: 943, yLabelRight: 1998}, 5, fev1Ticks, fev1Points, fev1Fit);
drawPanel('panel-c', {left: 288.5, right: 1297, top: 1332, bottom: 2006, xLabelBaseline: 2118, yLabelRight: 250}, 10, fefTicks, fefPoints, fefFit);
drawPanel('panel-d', {left: 2060, right: 3072, top: 1332, bottom: 2006, xLabelBaseline: 2118, yLabelRight: 2021}, 15, pefTicks, pefPoints, pefFit);
</script>
</body>
</html>
